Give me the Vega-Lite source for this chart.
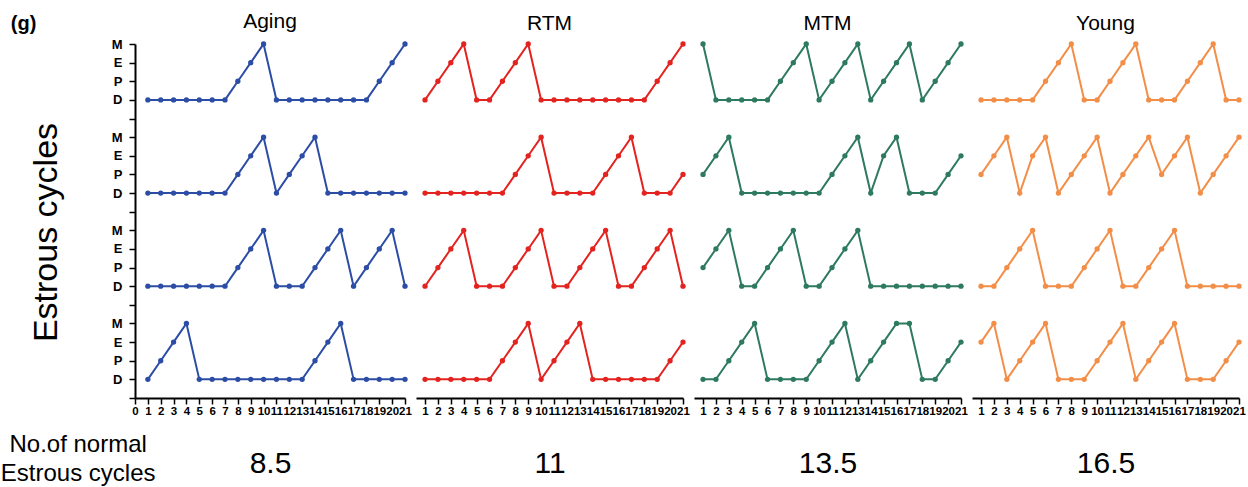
{
"$schema":"https://vega.github.io/schema/vega-lite/v6.json",
"background":"white",
"padding":{"left":0,"top":11,"right":4,"bottom":2},
"title":{"text":"(g)","orient":"top","anchor":"start","frame":"bounds","offset":-23,"dx":10,"fontSize":20,"fontWeight":"bold","font":"Liberation Sans","color":"black"},
"config":{
 "view":{"stroke":null},
 "title":{"font":"Liberation Sans","fontWeight":"normal","color":"black","fontSize":21,"offset":6},
 "axis":{"grid":false,"domainColor":"black","tickColor":"black","labelColor":"black","titleColor":"black","labelFont":"Liberation Sans","titleFont":"Liberation Sans","labelFontWeight":"bold","titleFontWeight":"normal","labelFlush":false,"labelOverlap":false,"labelBound":false},
 "axisX":{"domainWidth":2,"tickSize":6,"tickWidth":1.5,"labelFontSize":11.5,"labelPadding":1,"titleFontSize":30,"titlePadding":32},
 "axisY":{"domainWidth":2,"tickSize":6,"tickWidth":1.5,"labelFontSize":13,"labelPadding":7,"titleFontSize":34,"titlePadding":48}
},
"vconcat":[{
 "title":{"text":["No.of normal","Estrous cycles"],"orient":"bottom","anchor":"start","frame":"bounds","align":"center","dx":49,"offset":-46,"fontSize":24,"lineHeight":29},
 "data":{"values":[
{"group":"Aging","row":1,"day":1,"stage":0},{"group":"Aging","row":1,"day":2,"stage":0},{"group":"Aging","row":1,"day":3,"stage":0},{"group":"Aging","row":1,"day":4,"stage":0},{"group":"Aging","row":1,"day":5,"stage":0},{"group":"Aging","row":1,"day":6,"stage":0},{"group":"Aging","row":1,"day":7,"stage":0},{"group":"Aging","row":1,"day":8,"stage":1},{"group":"Aging","row":1,"day":9,"stage":2},{"group":"Aging","row":1,"day":10,"stage":3},{"group":"Aging","row":1,"day":11,"stage":0},{"group":"Aging","row":1,"day":12,"stage":0},{"group":"Aging","row":1,"day":13,"stage":0},{"group":"Aging","row":1,"day":14,"stage":0},{"group":"Aging","row":1,"day":15,"stage":0},{"group":"Aging","row":1,"day":16,"stage":0},{"group":"Aging","row":1,"day":17,"stage":0},{"group":"Aging","row":1,"day":18,"stage":0},{"group":"Aging","row":1,"day":19,"stage":1},{"group":"Aging","row":1,"day":20,"stage":2},{"group":"Aging","row":1,"day":21,"stage":3},
{"group":"Aging","row":2,"day":1,"stage":0},{"group":"Aging","row":2,"day":2,"stage":0},{"group":"Aging","row":2,"day":3,"stage":0},{"group":"Aging","row":2,"day":4,"stage":0},{"group":"Aging","row":2,"day":5,"stage":0},{"group":"Aging","row":2,"day":6,"stage":0},{"group":"Aging","row":2,"day":7,"stage":0},{"group":"Aging","row":2,"day":8,"stage":1},{"group":"Aging","row":2,"day":9,"stage":2},{"group":"Aging","row":2,"day":10,"stage":3},{"group":"Aging","row":2,"day":11,"stage":0},{"group":"Aging","row":2,"day":12,"stage":1},{"group":"Aging","row":2,"day":13,"stage":2},{"group":"Aging","row":2,"day":14,"stage":3},{"group":"Aging","row":2,"day":15,"stage":0},{"group":"Aging","row":2,"day":16,"stage":0},{"group":"Aging","row":2,"day":17,"stage":0},{"group":"Aging","row":2,"day":18,"stage":0},{"group":"Aging","row":2,"day":19,"stage":0},{"group":"Aging","row":2,"day":20,"stage":0},{"group":"Aging","row":2,"day":21,"stage":0},
{"group":"Aging","row":3,"day":1,"stage":0},{"group":"Aging","row":3,"day":2,"stage":0},{"group":"Aging","row":3,"day":3,"stage":0},{"group":"Aging","row":3,"day":4,"stage":0},{"group":"Aging","row":3,"day":5,"stage":0},{"group":"Aging","row":3,"day":6,"stage":0},{"group":"Aging","row":3,"day":7,"stage":0},{"group":"Aging","row":3,"day":8,"stage":1},{"group":"Aging","row":3,"day":9,"stage":2},{"group":"Aging","row":3,"day":10,"stage":3},{"group":"Aging","row":3,"day":11,"stage":0},{"group":"Aging","row":3,"day":12,"stage":0},{"group":"Aging","row":3,"day":13,"stage":0},{"group":"Aging","row":3,"day":14,"stage":1},{"group":"Aging","row":3,"day":15,"stage":2},{"group":"Aging","row":3,"day":16,"stage":3},{"group":"Aging","row":3,"day":17,"stage":0},{"group":"Aging","row":3,"day":18,"stage":1},{"group":"Aging","row":3,"day":19,"stage":2},{"group":"Aging","row":3,"day":20,"stage":3},{"group":"Aging","row":3,"day":21,"stage":0},
{"group":"Aging","row":4,"day":1,"stage":0},{"group":"Aging","row":4,"day":2,"stage":1},{"group":"Aging","row":4,"day":3,"stage":2},{"group":"Aging","row":4,"day":4,"stage":3},{"group":"Aging","row":4,"day":5,"stage":0},{"group":"Aging","row":4,"day":6,"stage":0},{"group":"Aging","row":4,"day":7,"stage":0},{"group":"Aging","row":4,"day":8,"stage":0},{"group":"Aging","row":4,"day":9,"stage":0},{"group":"Aging","row":4,"day":10,"stage":0},{"group":"Aging","row":4,"day":11,"stage":0},{"group":"Aging","row":4,"day":12,"stage":0},{"group":"Aging","row":4,"day":13,"stage":0},{"group":"Aging","row":4,"day":14,"stage":1},{"group":"Aging","row":4,"day":15,"stage":2},{"group":"Aging","row":4,"day":16,"stage":3},{"group":"Aging","row":4,"day":17,"stage":0},{"group":"Aging","row":4,"day":18,"stage":0},{"group":"Aging","row":4,"day":19,"stage":0},{"group":"Aging","row":4,"day":20,"stage":0},{"group":"Aging","row":4,"day":21,"stage":0},
{"group":"RTM","row":1,"day":1,"stage":0},{"group":"RTM","row":1,"day":2,"stage":1},{"group":"RTM","row":1,"day":3,"stage":2},{"group":"RTM","row":1,"day":4,"stage":3},{"group":"RTM","row":1,"day":5,"stage":0},{"group":"RTM","row":1,"day":6,"stage":0},{"group":"RTM","row":1,"day":7,"stage":1},{"group":"RTM","row":1,"day":8,"stage":2},{"group":"RTM","row":1,"day":9,"stage":3},{"group":"RTM","row":1,"day":10,"stage":0},{"group":"RTM","row":1,"day":11,"stage":0},{"group":"RTM","row":1,"day":12,"stage":0},{"group":"RTM","row":1,"day":13,"stage":0},{"group":"RTM","row":1,"day":14,"stage":0},{"group":"RTM","row":1,"day":15,"stage":0},{"group":"RTM","row":1,"day":16,"stage":0},{"group":"RTM","row":1,"day":17,"stage":0},{"group":"RTM","row":1,"day":18,"stage":0},{"group":"RTM","row":1,"day":19,"stage":1},{"group":"RTM","row":1,"day":20,"stage":2},{"group":"RTM","row":1,"day":21,"stage":3},
{"group":"RTM","row":2,"day":1,"stage":0},{"group":"RTM","row":2,"day":2,"stage":0},{"group":"RTM","row":2,"day":3,"stage":0},{"group":"RTM","row":2,"day":4,"stage":0},{"group":"RTM","row":2,"day":5,"stage":0},{"group":"RTM","row":2,"day":6,"stage":0},{"group":"RTM","row":2,"day":7,"stage":0},{"group":"RTM","row":2,"day":8,"stage":1},{"group":"RTM","row":2,"day":9,"stage":2},{"group":"RTM","row":2,"day":10,"stage":3},{"group":"RTM","row":2,"day":11,"stage":0},{"group":"RTM","row":2,"day":12,"stage":0},{"group":"RTM","row":2,"day":13,"stage":0},{"group":"RTM","row":2,"day":14,"stage":0},{"group":"RTM","row":2,"day":15,"stage":1},{"group":"RTM","row":2,"day":16,"stage":2},{"group":"RTM","row":2,"day":17,"stage":3},{"group":"RTM","row":2,"day":18,"stage":0},{"group":"RTM","row":2,"day":19,"stage":0},{"group":"RTM","row":2,"day":20,"stage":0},{"group":"RTM","row":2,"day":21,"stage":1},
{"group":"RTM","row":3,"day":1,"stage":0},{"group":"RTM","row":3,"day":2,"stage":1},{"group":"RTM","row":3,"day":3,"stage":2},{"group":"RTM","row":3,"day":4,"stage":3},{"group":"RTM","row":3,"day":5,"stage":0},{"group":"RTM","row":3,"day":6,"stage":0},{"group":"RTM","row":3,"day":7,"stage":0},{"group":"RTM","row":3,"day":8,"stage":1},{"group":"RTM","row":3,"day":9,"stage":2},{"group":"RTM","row":3,"day":10,"stage":3},{"group":"RTM","row":3,"day":11,"stage":0},{"group":"RTM","row":3,"day":12,"stage":0},{"group":"RTM","row":3,"day":13,"stage":1},{"group":"RTM","row":3,"day":14,"stage":2},{"group":"RTM","row":3,"day":15,"stage":3},{"group":"RTM","row":3,"day":16,"stage":0},{"group":"RTM","row":3,"day":17,"stage":0},{"group":"RTM","row":3,"day":18,"stage":1},{"group":"RTM","row":3,"day":19,"stage":2},{"group":"RTM","row":3,"day":20,"stage":3},{"group":"RTM","row":3,"day":21,"stage":0},
{"group":"RTM","row":4,"day":1,"stage":0},{"group":"RTM","row":4,"day":2,"stage":0},{"group":"RTM","row":4,"day":3,"stage":0},{"group":"RTM","row":4,"day":4,"stage":0},{"group":"RTM","row":4,"day":5,"stage":0},{"group":"RTM","row":4,"day":6,"stage":0},{"group":"RTM","row":4,"day":7,"stage":1},{"group":"RTM","row":4,"day":8,"stage":2},{"group":"RTM","row":4,"day":9,"stage":3},{"group":"RTM","row":4,"day":10,"stage":0},{"group":"RTM","row":4,"day":11,"stage":1},{"group":"RTM","row":4,"day":12,"stage":2},{"group":"RTM","row":4,"day":13,"stage":3},{"group":"RTM","row":4,"day":14,"stage":0},{"group":"RTM","row":4,"day":15,"stage":0},{"group":"RTM","row":4,"day":16,"stage":0},{"group":"RTM","row":4,"day":17,"stage":0},{"group":"RTM","row":4,"day":18,"stage":0},{"group":"RTM","row":4,"day":19,"stage":0},{"group":"RTM","row":4,"day":20,"stage":1},{"group":"RTM","row":4,"day":21,"stage":2},
{"group":"MTM","row":1,"day":1,"stage":3},{"group":"MTM","row":1,"day":2,"stage":0},{"group":"MTM","row":1,"day":3,"stage":0},{"group":"MTM","row":1,"day":4,"stage":0},{"group":"MTM","row":1,"day":5,"stage":0},{"group":"MTM","row":1,"day":6,"stage":0},{"group":"MTM","row":1,"day":7,"stage":1},{"group":"MTM","row":1,"day":8,"stage":2},{"group":"MTM","row":1,"day":9,"stage":3},{"group":"MTM","row":1,"day":10,"stage":0},{"group":"MTM","row":1,"day":11,"stage":1},{"group":"MTM","row":1,"day":12,"stage":2},{"group":"MTM","row":1,"day":13,"stage":3},{"group":"MTM","row":1,"day":14,"stage":0},{"group":"MTM","row":1,"day":15,"stage":1},{"group":"MTM","row":1,"day":16,"stage":2},{"group":"MTM","row":1,"day":17,"stage":3},{"group":"MTM","row":1,"day":18,"stage":0},{"group":"MTM","row":1,"day":19,"stage":1},{"group":"MTM","row":1,"day":20,"stage":2},{"group":"MTM","row":1,"day":21,"stage":3},
{"group":"MTM","row":2,"day":1,"stage":1},{"group":"MTM","row":2,"day":2,"stage":2},{"group":"MTM","row":2,"day":3,"stage":3},{"group":"MTM","row":2,"day":4,"stage":0},{"group":"MTM","row":2,"day":5,"stage":0},{"group":"MTM","row":2,"day":6,"stage":0},{"group":"MTM","row":2,"day":7,"stage":0},{"group":"MTM","row":2,"day":8,"stage":0},{"group":"MTM","row":2,"day":9,"stage":0},{"group":"MTM","row":2,"day":10,"stage":0},{"group":"MTM","row":2,"day":11,"stage":1},{"group":"MTM","row":2,"day":12,"stage":2},{"group":"MTM","row":2,"day":13,"stage":3},{"group":"MTM","row":2,"day":14,"stage":0},{"group":"MTM","row":2,"day":15,"stage":2},{"group":"MTM","row":2,"day":16,"stage":3},{"group":"MTM","row":2,"day":17,"stage":0},{"group":"MTM","row":2,"day":18,"stage":0},{"group":"MTM","row":2,"day":19,"stage":0},{"group":"MTM","row":2,"day":20,"stage":1},{"group":"MTM","row":2,"day":21,"stage":2},
{"group":"MTM","row":3,"day":1,"stage":1},{"group":"MTM","row":3,"day":2,"stage":2},{"group":"MTM","row":3,"day":3,"stage":3},{"group":"MTM","row":3,"day":4,"stage":0},{"group":"MTM","row":3,"day":5,"stage":0},{"group":"MTM","row":3,"day":6,"stage":1},{"group":"MTM","row":3,"day":7,"stage":2},{"group":"MTM","row":3,"day":8,"stage":3},{"group":"MTM","row":3,"day":9,"stage":0},{"group":"MTM","row":3,"day":10,"stage":0},{"group":"MTM","row":3,"day":11,"stage":1},{"group":"MTM","row":3,"day":12,"stage":2},{"group":"MTM","row":3,"day":13,"stage":3},{"group":"MTM","row":3,"day":14,"stage":0},{"group":"MTM","row":3,"day":15,"stage":0},{"group":"MTM","row":3,"day":16,"stage":0},{"group":"MTM","row":3,"day":17,"stage":0},{"group":"MTM","row":3,"day":18,"stage":0},{"group":"MTM","row":3,"day":19,"stage":0},{"group":"MTM","row":3,"day":20,"stage":0},{"group":"MTM","row":3,"day":21,"stage":0},
{"group":"MTM","row":4,"day":1,"stage":0},{"group":"MTM","row":4,"day":2,"stage":0},{"group":"MTM","row":4,"day":3,"stage":1},{"group":"MTM","row":4,"day":4,"stage":2},{"group":"MTM","row":4,"day":5,"stage":3},{"group":"MTM","row":4,"day":6,"stage":0},{"group":"MTM","row":4,"day":7,"stage":0},{"group":"MTM","row":4,"day":8,"stage":0},{"group":"MTM","row":4,"day":9,"stage":0},{"group":"MTM","row":4,"day":10,"stage":1},{"group":"MTM","row":4,"day":11,"stage":2},{"group":"MTM","row":4,"day":12,"stage":3},{"group":"MTM","row":4,"day":13,"stage":0},{"group":"MTM","row":4,"day":14,"stage":1},{"group":"MTM","row":4,"day":15,"stage":2},{"group":"MTM","row":4,"day":16,"stage":3},{"group":"MTM","row":4,"day":17,"stage":3},{"group":"MTM","row":4,"day":18,"stage":0},{"group":"MTM","row":4,"day":19,"stage":0},{"group":"MTM","row":4,"day":20,"stage":1},{"group":"MTM","row":4,"day":21,"stage":2},
{"group":"Young","row":1,"day":1,"stage":0},{"group":"Young","row":1,"day":2,"stage":0},{"group":"Young","row":1,"day":3,"stage":0},{"group":"Young","row":1,"day":4,"stage":0},{"group":"Young","row":1,"day":5,"stage":0},{"group":"Young","row":1,"day":6,"stage":1},{"group":"Young","row":1,"day":7,"stage":2},{"group":"Young","row":1,"day":8,"stage":3},{"group":"Young","row":1,"day":9,"stage":0},{"group":"Young","row":1,"day":10,"stage":0},{"group":"Young","row":1,"day":11,"stage":1},{"group":"Young","row":1,"day":12,"stage":2},{"group":"Young","row":1,"day":13,"stage":3},{"group":"Young","row":1,"day":14,"stage":0},{"group":"Young","row":1,"day":15,"stage":0},{"group":"Young","row":1,"day":16,"stage":0},{"group":"Young","row":1,"day":17,"stage":1},{"group":"Young","row":1,"day":18,"stage":2},{"group":"Young","row":1,"day":19,"stage":3},{"group":"Young","row":1,"day":20,"stage":0},{"group":"Young","row":1,"day":21,"stage":0},
{"group":"Young","row":2,"day":1,"stage":1},{"group":"Young","row":2,"day":2,"stage":2},{"group":"Young","row":2,"day":3,"stage":3},{"group":"Young","row":2,"day":4,"stage":0},{"group":"Young","row":2,"day":5,"stage":2},{"group":"Young","row":2,"day":6,"stage":3},{"group":"Young","row":2,"day":7,"stage":0},{"group":"Young","row":2,"day":8,"stage":1},{"group":"Young","row":2,"day":9,"stage":2},{"group":"Young","row":2,"day":10,"stage":3},{"group":"Young","row":2,"day":11,"stage":0},{"group":"Young","row":2,"day":12,"stage":1},{"group":"Young","row":2,"day":13,"stage":2},{"group":"Young","row":2,"day":14,"stage":3},{"group":"Young","row":2,"day":15,"stage":1},{"group":"Young","row":2,"day":16,"stage":2},{"group":"Young","row":2,"day":17,"stage":3},{"group":"Young","row":2,"day":18,"stage":0},{"group":"Young","row":2,"day":19,"stage":1},{"group":"Young","row":2,"day":20,"stage":2},{"group":"Young","row":2,"day":21,"stage":3},
{"group":"Young","row":3,"day":1,"stage":0},{"group":"Young","row":3,"day":2,"stage":0},{"group":"Young","row":3,"day":3,"stage":1},{"group":"Young","row":3,"day":4,"stage":2},{"group":"Young","row":3,"day":5,"stage":3},{"group":"Young","row":3,"day":6,"stage":0},{"group":"Young","row":3,"day":7,"stage":0},{"group":"Young","row":3,"day":8,"stage":0},{"group":"Young","row":3,"day":9,"stage":1},{"group":"Young","row":3,"day":10,"stage":2},{"group":"Young","row":3,"day":11,"stage":3},{"group":"Young","row":3,"day":12,"stage":0},{"group":"Young","row":3,"day":13,"stage":0},{"group":"Young","row":3,"day":14,"stage":1},{"group":"Young","row":3,"day":15,"stage":2},{"group":"Young","row":3,"day":16,"stage":3},{"group":"Young","row":3,"day":17,"stage":0},{"group":"Young","row":3,"day":18,"stage":0},{"group":"Young","row":3,"day":19,"stage":0},{"group":"Young","row":3,"day":20,"stage":0},{"group":"Young","row":3,"day":21,"stage":0},
{"group":"Young","row":4,"day":1,"stage":2},{"group":"Young","row":4,"day":2,"stage":3},{"group":"Young","row":4,"day":3,"stage":0},{"group":"Young","row":4,"day":4,"stage":1},{"group":"Young","row":4,"day":5,"stage":2},{"group":"Young","row":4,"day":6,"stage":3},{"group":"Young","row":4,"day":7,"stage":0},{"group":"Young","row":4,"day":8,"stage":0},{"group":"Young","row":4,"day":9,"stage":0},{"group":"Young","row":4,"day":10,"stage":1},{"group":"Young","row":4,"day":11,"stage":2},{"group":"Young","row":4,"day":12,"stage":3},{"group":"Young","row":4,"day":13,"stage":0},{"group":"Young","row":4,"day":14,"stage":1},{"group":"Young","row":4,"day":15,"stage":2},{"group":"Young","row":4,"day":16,"stage":3},{"group":"Young","row":4,"day":17,"stage":0},{"group":"Young","row":4,"day":18,"stage":0},{"group":"Young","row":4,"day":19,"stage":0},{"group":"Young","row":4,"day":20,"stage":1},{"group":"Young","row":4,"day":21,"stage":2}
 ]},
 "transform":[{"calculate":"datum.stage + (4 - datum.row) * 5","as":"level"}],
 "bounds":"flush",
 "spacing":11,
 "hconcat":[
  {"title":{"text":"Aging"},"width":270,"height":354,
   "transform":[{"filter":"datum.group === 'Aging'"}],
   "encoding":{
    "x":{"field":"day","type":"quantitative","scale":{"domain":[0,21],"nice":false,"zero":false},"axis":{"values":[0,1,2,3,4,5,6,7,8,9,10,11,12,13,14,15,16,17,18,19,20,21],"title":"8.5"}},
    "y":{"field":"level","type":"quantitative","scale":{"domain":[-1,18],"nice":false,"zero":false},"axis":{"values":[-1,0,1,2,3,4,5,6,7,8,9,10,11,12,13,14,15,16,17,18],"labelExpr":"['D','P','E','M',''][(datum.value+5)%5]","title":"Estrous cycles","titleY":188}},
    "detail":{"field":"row","type":"nominal"}},
   "layer":[{"mark":{"type":"line","color":"#2c4da5","strokeWidth":2}},{"mark":{"type":"circle","color":"#2c4da5","size":28,"opacity":1}}]},
  {"title":{"text":"RTM"},"width":267,"height":354,
   "transform":[{"filter":"datum.group === 'RTM'"}],
   "encoding":{
    "x":{"field":"day","type":"quantitative","scale":{"domain":[0.3,21],"nice":false,"zero":false},"axis":{"values":[1,2,3,4,5,6,7,8,9,10,11,12,13,14,15,16,17,18,19,20,21],"title":"11"}},
    "y":{"field":"level","type":"quantitative","scale":{"domain":[-1,18],"nice":false,"zero":false},"axis":null},
    "detail":{"field":"row","type":"nominal"}},
   "layer":[{"mark":{"type":"line","color":"#e3231f","strokeWidth":2}},{"mark":{"type":"circle","color":"#e3231f","size":28,"opacity":1}}]},
  {"title":{"text":"MTM"},"width":267,"height":354,
   "transform":[{"filter":"datum.group === 'MTM'"}],
   "encoding":{
    "x":{"field":"day","type":"quantitative","scale":{"domain":[0.3,21],"nice":false,"zero":false},"axis":{"values":[1,2,3,4,5,6,7,8,9,10,11,12,13,14,15,16,17,18,19,20,21],"title":"13.5"}},
    "y":{"field":"level","type":"quantitative","scale":{"domain":[-1,18],"nice":false,"zero":false},"axis":null},
    "detail":{"field":"row","type":"nominal"}},
   "layer":[{"mark":{"type":"line","color":"#2e7a5f","strokeWidth":2}},{"mark":{"type":"circle","color":"#2e7a5f","size":28,"opacity":1}}]},
  {"title":{"text":"Young"},"width":267,"height":354,
   "transform":[{"filter":"datum.group === 'Young'"}],
   "encoding":{
    "x":{"field":"day","type":"quantitative","scale":{"domain":[0.3,21],"nice":false,"zero":false},"axis":{"values":[1,2,3,4,5,6,7,8,9,10,11,12,13,14,15,16,17,18,19,20,21],"title":"16.5"}},
    "y":{"field":"level","type":"quantitative","scale":{"domain":[-1,18],"nice":false,"zero":false},"axis":null},
    "detail":{"field":"row","type":"nominal"}},
   "layer":[{"mark":{"type":"line","color":"#f28e47","strokeWidth":2}},{"mark":{"type":"circle","color":"#f28e47","size":28,"opacity":1}}]}
 ]
}]
}
